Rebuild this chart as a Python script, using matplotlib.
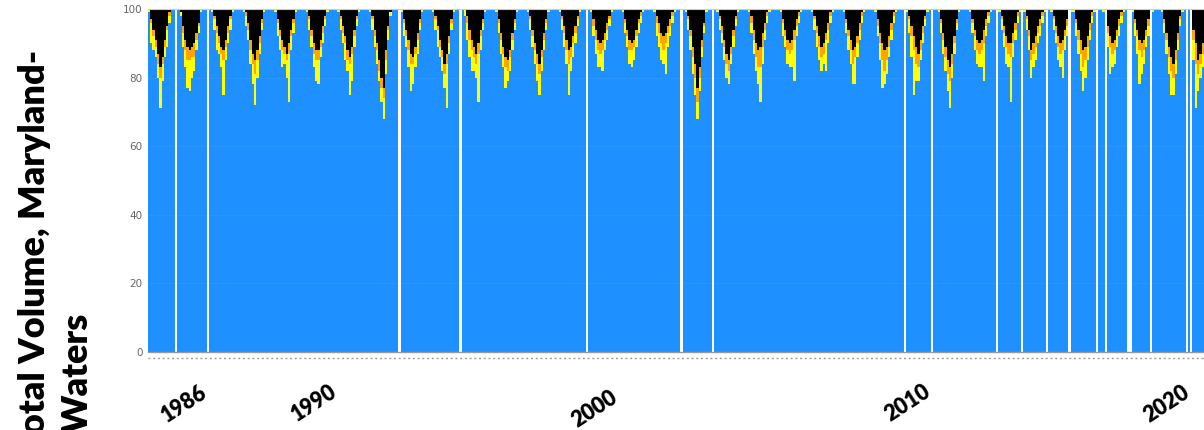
import matplotlib
matplotlib.use("Agg")
import matplotlib.pyplot as plt

# share of total volume (%) per cruise, Maryland mainstem
years = list(range(1985, 2020))
cruises_per_year = [12, 14, 14, 14, 14, 14, 14, 14, 14, 14, 14, 14, 14, 14, 14, 14, 14, 14,
                    14, 14, 14, 14, 14, 14, 14, 14, 13, 12, 12, 11, 11, 13, 13, 13, 14]
# index of the first summer cruise in each year
season_start = [0, 2, 2, 2, 2, 2, 2, 2, 2, 2, 2, 2, 2, 2, 2, 2, 2, 2,
                2, 2, 2, 2, 2, 2, 2, 2, 2, 2, 1, 1, 0, 2, 2, 2, 2]

# summer cruises: anoxic (black), severe hypoxia (orange), mild hypoxia (yellow)
anoxic = [
    [0, 3, 6, 9, 13, 17, 14, 9, 5, 1],
    [1, 5, 9, 11, 12, 11, 10, 7, 4, 0],
    [0, 2, 5, 8, 11, 12, 9, 5, 2, 0],
    [0, 1, 4, 9, 13, 15, 12, 8, 3, 0],
    [0, 3, 6, 9, 11, 13, 10, 6, 3, 0],
    [0, 2, 6, 10, 12, 12, 9, 5, 2, 0],
    [0, 2, 5, 8, 12, 14, 11, 6, 2, 0],
    [0, 2, 6, 10, 15, 20, 23, 12, 5, 1],
    [0, 3, 6, 9, 13, 14, 11, 7, 3, 0],
    [0, 2, 5, 9, 12, 16, 13, 8, 3, 0],
    [0, 2, 6, 9, 11, 13, 10, 6, 3, 0],
    [0, 3, 7, 11, 14, 15, 12, 7, 3, 0],
    [0, 2, 6, 10, 13, 16, 12, 7, 3, 0],
    [0, 2, 5, 9, 12, 11, 8, 5, 2, 0],
    [0, 3, 6, 9, 10, 9, 7, 4, 2, 0],
    [0, 3, 6, 9, 10, 9, 6, 3, 1, 0],
    [0, 2, 4, 7, 8, 7, 5, 3, 1, 0],
    [0, 2, 6, 11, 16, 23, 17, 9, 4, 0],
    [0, 2, 5, 9, 13, 15, 11, 6, 2, 0],
    [0, 2, 6, 10, 12, 11, 7, 4, 1, 0],
    [0, 3, 6, 9, 10, 9, 6, 3, 1, 0],
    [0, 2, 5, 8, 11, 10, 7, 4, 1, 0],
    [0, 3, 6, 9, 12, 11, 8, 4, 1, 0],
    [0, 3, 7, 10, 12, 11, 8, 4, 1, 0],
    [0, 2, 5, 8, 11, 13, 9, 5, 2, 0],
    [0, 3, 7, 11, 15, 17, 13, 8, 3, 0],
    [0, 3, 6, 9, 10, 9, 6, 3, 1, 0],
    [0, 2, 5, 8, 10, 10, 7, 4, 1, 0],
    [0, 2, 6, 12, 10, 8, 5, 3, 1, 0],
    [0, 2, 5, 8, 10, 9, 6, 3, 1, 0],
    [0, 3, 6, 9, 12, 11, 8, 4, 1, 0],
    [0, 2, 5, 8, 10, 9, 6, 3, 1, 0],
    [0, 3, 6, 9, 10, 9, 6, 3, 1, 0],
    [0, 3, 7, 11, 14, 16, 12, 7, 2, 0],
    [0, 6, 10, 15, 13, 10, 6, 3, 1, 0],
]
severe = [
    [0, 1, 2, 2, 3, 3, 2, 2, 1, 1],
    [0, 2, 3, 4, 3, 3, 4, 2, 1, 0],
    [0, 1, 2, 2, 2, 3, 2, 2, 1, 0],
    [0, 1, 2, 3, 3, 4, 3, 2, 1, 0],
    [0, 1, 2, 3, 2, 2, 3, 2, 1, 0],
    [0, 1, 2, 3, 3, 3, 2, 2, 1, 0],
    [0, 1, 2, 2, 3, 2, 2, 2, 1, 0],
    [0, 1, 2, 2, 3, 3, 3, 3, 1, 0],
    [0, 1, 2, 3, 3, 2, 2, 2, 1, 0],
    [0, 1, 1, 2, 2, 3, 3, 2, 1, 0],
    [0, 2, 3, 3, 3, 3, 3, 2, 1, 0],
    [0, 1, 2, 2, 3, 3, 2, 2, 1, 0],
    [0, 1, 2, 2, 3, 3, 2, 2, 1, 0],
    [0, 1, 2, 3, 4, 3, 2, 2, 1, 0],
    [0, 2, 3, 3, 3, 3, 2, 2, 1, 0],
    [0, 1, 2, 3, 2, 2, 2, 1, 1, 0],
    [0, 2, 3, 3, 4, 3, 2, 2, 1, 0],
    [0, 1, 2, 3, 4, 4, 3, 2, 1, 0],
    [0, 1, 2, 2, 3, 3, 2, 2, 1, 0],
    [0, 2, 3, 4, 5, 6, 4, 2, 1, 0],
    [0, 1, 2, 3, 3, 3, 3, 2, 1, 0],
    [0, 1, 2, 3, 3, 3, 2, 2, 1, 0],
    [0, 1, 2, 3, 4, 3, 2, 2, 1, 0],
    [0, 2, 3, 5, 6, 4, 3, 2, 1, 0],
    [0, 1, 3, 4, 5, 4, 3, 2, 1, 0],
    [0, 1, 2, 3, 4, 4, 3, 2, 1, 0],
    [0, 1, 2, 3, 3, 3, 4, 2, 1, 0],
    [0, 1, 2, 3, 3, 4, 3, 2, 1, 0],
    [0, 1, 2, 3, 3, 3, 2, 2, 1, 0],
    [0, 1, 2, 3, 3, 3, 2, 2, 1, 0],
    [0, 1, 3, 4, 5, 4, 3, 2, 1, 0],
    [0, 1, 2, 3, 3, 3, 2, 2, 1, 0],
    [0, 1, 2, 3, 4, 3, 2, 2, 1, 0],
    [0, 1, 2, 3, 4, 4, 3, 2, 1, 0],
    [1, 3, 6, 4, 3, 3, 2, 2, 1, 0],
]
mild = [
    [1, 6, 4, 3, 4, 9, 5, 3, 5, 2],
    [1, 4, 5, 8, 9, 6, 4, 3, 2, 1],
    [1, 3, 5, 3, 4, 10, 4, 3, 3, 1],
    [1, 3, 3, 4, 6, 9, 5, 3, 2, 1],
    [1, 4, 4, 5, 3, 5, 14, 4, 3, 1],
    [1, 3, 3, 4, 6, 7, 3, 3, 2, 1],
    [1, 3, 3, 5, 3, 9, 8, 3, 2, 1],
    [1, 3, 3, 4, 3, 4, 6, 4, 3, 1],
    [1, 4, 3, 5, 8, 6, 4, 4, 2, 1],
    [1, 3, 5, 3, 4, 4, 13, 3, 2, 1],
    [2, 5, 5, 6, 4, 4, 14, 4, 2, 1],
    [1, 3, 4, 4, 6, 3, 4, 3, 2, 1],
    [1, 3, 3, 4, 5, 6, 4, 3, 2, 1],
    [1, 3, 4, 4, 9, 4, 4, 3, 2, 1],
    [1, 3, 4, 5, 4, 6, 3, 3, 2, 1],
    [1, 3, 3, 4, 5, 4, 3, 3, 2, 1],
    [1, 4, 4, 5, 4, 9, 4, 3, 2, 1],
    [1, 3, 4, 5, 5, 5, 4, 3, 2, 1],
    [1, 3, 3, 4, 4, 4, 3, 3, 2, 1],
    [1, 3, 4, 4, 5, 10, 5, 3, 2, 1],
    [1, 4, 3, 4, 4, 5, 12, 3, 2, 1],
    [1, 3, 4, 4, 4, 3, 9, 4, 2, 1],
    [1, 3, 4, 4, 6, 8, 4, 3, 2, 1],
    [1, 3, 5, 8, 4, 4, 3, 3, 2, 1],
    [1, 4, 6, 13, 5, 4, 3, 3, 2, 1],
    [1, 3, 4, 4, 5, 8, 4, 3, 2, 1],
    [1, 3, 4, 4, 4, 5, 11, 3, 2, 1],
    [1, 3, 4, 5, 4, 13, 4, 3, 2, 1],
    [1, 3, 4, 5, 4, 4, 3, 3, 2, 1],
    [1, 3, 3, 4, 4, 8, 4, 3, 2, 1],
    [1, 4, 4, 5, 7, 5, 4, 3, 2, 1],
    [1, 3, 4, 8, 4, 4, 3, 3, 2, 1],
    [1, 4, 5, 10, 5, 4, 3, 3, 2, 1],
    [1, 3, 4, 5, 7, 5, 4, 3, 2, 1],
    [2, 6, 13, 5, 4, 4, 3, 3, 2, 1],
]
# cruises with no data (year, cruise index)
missing = [(1986, 0), (1987, 0), (1993, 1), (1995, 0), (1999, 0), (2002, 0), (2003, 0),
           (2009, 1), (2009, 13), (2012, 1), (2013, 0), (2013, 11), (2014, 9), (2015, 10),
           (2016, 3), (2017, 0), (2017, 1), (2017, 10), (2019, 0), (2019, 2)]

label_years = ["1986", "1990", "2000", "2010", "2020"]


def main():
    xs, blue, yel, org, blk = [], [], [], [], []
    pos = 0
    for i, yr in enumerate(years):
        for k in range(cruises_per_year[i]):
            if (yr, k) not in missing:
                j = k - season_start[i]
                if 0 <= j < 10:
                    a, o, m = anoxic[i][j], severe[i][j], mild[i][j]
                else:
                    a, o, m = 0, 0, 0
                xs.append(pos + 0.5)
                blk.append(a)
                org.append(o)
                yel.append(m)
                blue.append(100 - a - o - m)
            pos += 1

    fig = plt.figure(figsize=(12.04, 4.30), dpi=100)
    ax = fig.add_axes([148 / 1204, 78 / 430, 1056 / 1204, 343 / 430])

    bottom = [0] * len(xs)
    for vals, col in [(blue, '#1e90ff'), (yel, '#ffff00'), (org, '#ffa500'), (blk, '#000000')]:
        ax.bar(xs, vals, bottom=bottom, width=1.04, color=col, linewidth=0)
        bottom = [b + v for b, v in zip(bottom, vals)]

    for g in [20, 40, 60, 80]:
        ax.axhline(g, color='white', alpha=0.05, lw=0.8, zorder=3)

    ax.set_xlim(0, 1056 / 2.256)
    ax.set_ylim(0, 100)
    ax.set_yticks([0, 20, 40, 60, 80, 100])
    ax.tick_params(axis='y', length=0, pad=4, labelsize=7.5, labelcolor='#666666')
    ax.set_xticks([])
    for s in ['left', 'right']:
        ax.spines[s].set_visible(False)
    ax.spines['top'].set_color('#cccccc')
    ax.spines['top'].set_linewidth(0.8)
    ax.spines['bottom'].set_color('#999999')
    ax.spines['bottom'].set_linewidth(1.0)

    # dotted row under the axis
    ax.plot([0, 1], [-0.018, -0.018], transform=ax.transAxes, clip_on=False,
            color='#999999', lw=1.0, dashes=(1.4, 2.0))

    # year labels (overlaid)
    label_px = [(205, 390), (335, 390), (615, 396), (928, 390), (1188, 390)]
    for lab, (px, py) in zip(label_years, label_px):
        fig.text(px / 1204, 1 - py / 430, lab, rotation=33, rotation_mode='anchor',
                 ha='right', va='center', fontsize=15.5, fontweight='heavy', family='Lato')

    fig.text(45 / 1204, 1 - 50 / 430, "Total Volume, Maryland-", rotation=90,
             rotation_mode='anchor', ha='right', va='baseline',
             fontsize=26, fontweight='heavy', family='Lato')
    fig.text(88 / 1204, 1 - 313 / 430, "Waters", rotation=90,
             rotation_mode='anchor', ha='right', va='baseline',
             fontsize=26, fontweight='heavy', family='Lato')

    fig.savefig('out.png', dpi=100)


if __name__ == '__main__':
    main()
